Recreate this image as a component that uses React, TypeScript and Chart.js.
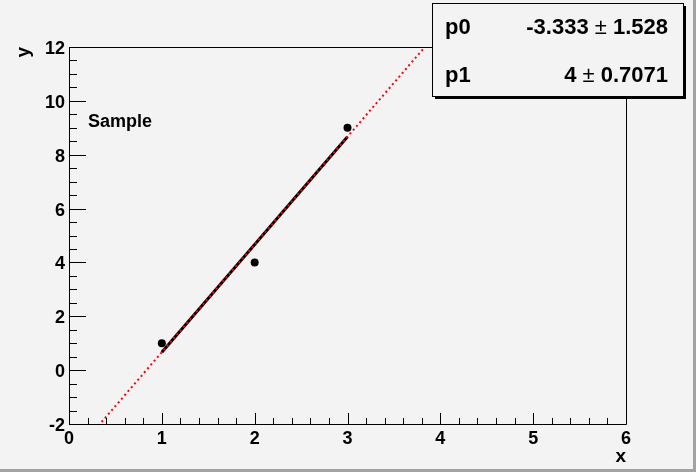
import React, { useEffect, useRef } from "react";
import { Chart, registerables } from "chart.js";

Chart.register(...registerables);

// ---- data ----
const pointsX = [1, 2, 3];
const pointsY = [1, 4, 9];
const paramNames = ["p0", "p1"];
const paramValues = ["-3.333", "4"];
const paramErrors = ["1.528", "0.7071"];
const fitP0 = -3.333;
const fitP1 = 4;
const fitRangeX = [1, 3]; // solid fit segment
const fullRangeX = [0, 6]; // dotted function over axis range
const xTickValues = [0, 1, 2, 3, 4, 5, 6];
const yTickValues = [-2, 0, 2, 4, 6, 8, 10, 12];
const sampleText = "Sample";
const xTitle = "x";
const yTitle = "y";

const FONT = '"Liberation Sans", Arial, Helvetica, sans-serif';
const BG = "#f3f3f3";

const fitLine = (xs: number[]) => xs.map((x) => ({ x, y: fitP0 + fitP1 * x }));

const rootPlugin = {
  id: "rootStyle",
  beforeDraw(chart: any) {
    const { ctx, width, height } = chart;
    ctx.save();
    ctx.fillStyle = BG;
    ctx.fillRect(0, 0, width, height);
    ctx.fillStyle = "#a3a3a3";
    ctx.fillRect(0, height - 3, width, 3);
    ctx.fillRect(width - 3, 0, 3, height);
    ctx.restore();
  },
  afterDraw(chart: any) {
    const { ctx, chartArea } = chart;
    const xs = chart.scales.x;
    const ys = chart.scales.y;
    const { left, right, top, bottom } = chartArea;
    ctx.save();
    ctx.strokeStyle = "#000";
    ctx.lineWidth = 1;
    // frame
    ctx.beginPath();
    ctx.rect(Math.round(left) + 0.5, Math.round(top) + 0.5, Math.round(right - left), Math.round(bottom - top));
    ctx.stroke();
    // y ticks
    ctx.beginPath();
    for (let i = 0; i < yTickValues.length; i++) {
      const v = yTickValues[i];
      const py = Math.round(ys.getPixelForValue(v)) + 0.5;
      ctx.moveTo(left, py);
      ctx.lineTo(left + 17, py);
      if (i < yTickValues.length - 1) {
        const step = (yTickValues[i + 1] - v) / 4;
        for (let k = 1; k < 4; k++) {
          const my = Math.round(ys.getPixelForValue(v + k * step)) + 0.5;
          ctx.moveTo(left, my);
          ctx.lineTo(left + 8, my);
        }
      }
    }
    // x ticks
    for (let i = 0; i < xTickValues.length; i++) {
      const v = xTickValues[i];
      const px = Math.round(xs.getPixelForValue(v)) + 0.5;
      ctx.moveTo(px, bottom);
      ctx.lineTo(px, bottom - 11);
      if (i < xTickValues.length - 1) {
        const step = (xTickValues[i + 1] - v) / 5;
        for (let k = 1; k < 5; k++) {
          const mx = Math.round(xs.getPixelForValue(v + k * step)) + 0.5;
          ctx.moveTo(mx, bottom);
          ctx.lineTo(mx, bottom - 6);
        }
      }
    }
    ctx.stroke();

    // axis titles
    ctx.fillStyle = "#000";
    ctx.font = `bold 19px ${FONT}`;
    ctx.textAlign = "right";
    ctx.textBaseline = "alphabetic";
    ctx.fillText(xTitle, right, 462);
    ctx.save();
    ctx.translate(29, top);
    ctx.rotate(-Math.PI / 2);
    ctx.textAlign = "right";
    ctx.fillText(yTitle, 0, 0);
    ctx.restore();

    // Sample text
    ctx.font = `bold 18px ${FONT}`;
    ctx.textAlign = "left";
    ctx.fillText(sampleText, 88, 127);

    // stats box
    const bx = 432, by = 3, bw = 251, bh = 93;
    ctx.fillStyle = "#000";
    ctx.fillRect(bx + 3, by + 3, bw, bh);
    ctx.fillStyle = BG;
    ctx.fillRect(bx, by, bw, bh);
    ctx.strokeStyle = "#000";
    ctx.strokeRect(bx + 0.5, by + 0.5, bw, bh);
    ctx.fillStyle = "#000";
    const bold = `bold 22px ${FONT}`;
    const normal = `22px ${FONT}`;
    const baselines = [34, 82];
    for (let i = 0; i < paramNames.length; i++) {
      ctx.font = bold;
      ctx.textAlign = "left";
      ctx.fillText(paramNames[i], 445, baselines[i]);
      // right-aligned: value, ±, error
      let xr = 668;
      ctx.textAlign = "right";
      ctx.font = bold;
      ctx.fillText(" " + paramErrors[i], xr, baselines[i]);
      xr -= ctx.measureText(" " + paramErrors[i]).width;
      ctx.font = normal;
      ctx.fillText("\u00b1", xr, baselines[i]);
      xr -= ctx.measureText("\u00b1").width;
      ctx.font = bold;
      ctx.fillText(paramValues[i] + " ", xr, baselines[i]);
    }
    ctx.restore();
  },
};

export default function App() {
  const ref = useRef<HTMLCanvasElement | null>(null);
  useEffect(() => {
    if (!ref.current) return;
    const chart = new Chart(ref.current, {
      type: "scatter",
      data: {
        datasets: [
          {
            data: fitLine(fullRangeX),
            showLine: true,
            borderColor: "#ff0000",
            borderWidth: 2,
            borderDash: [2, 3],
            pointRadius: 0,
          },
          {
            data: fitLine(fitRangeX),
            showLine: true,
            borderColor: "#000",
            borderWidth: 3,
            pointRadius: 0,
          },
          {
            data: pointsX.map((x, i) => ({ x, y: pointsY[i] })),
            showLine: false,
            pointRadius: 4,
            pointBackgroundColor: "#000",
            pointBorderColor: "#000",
            pointBorderWidth: 0,
          },
        ],
      },
      options: {
        responsive: false,
        animation: false,
        devicePixelRatio: 1,
        layout: { padding: { left: 0, top: 47, right: 70, bottom: 0 } },
        plugins: { legend: { display: false }, tooltip: { enabled: false } },
        scales: {
          x: {
            type: "linear",
            min: 0,
            max: 6,
            afterFit: (s: any) => { s.height = 48; },
            afterBuildTicks: (s: any) => { s.ticks = xTickValues.map((v) => ({ value: v })); },
            grid: { display: false, drawTicks: false },
            border: { display: false },
            ticks: { color: "#000", padding: 4, font: { family: FONT, size: 18, weight: "bold" } },
          },
          y: {
            type: "linear",
            min: -2,
            max: 12,
            afterFit: (s: any) => { s.width = 69; },
            afterBuildTicks: (s: any) => { s.ticks = yTickValues.map((v) => ({ value: v })); },
            grid: { display: false, drawTicks: false },
            border: { display: false },
            ticks: { color: "#000", padding: 4, labelOffset: 2, font: { family: FONT, size: 18, weight: "bold" } },
          },
        },
      },
      plugins: [rootPlugin],
    } as any);
    return () => chart.destroy();
  }, []);
  return (
    <div style={{ position: "fixed", left: 0, top: 0, width: 696, height: 472 }}>
      <canvas ref={ref} width={696} height={472} style={{ width: 696, height: 472, display: "block" }} />
    </div>
  );
}
